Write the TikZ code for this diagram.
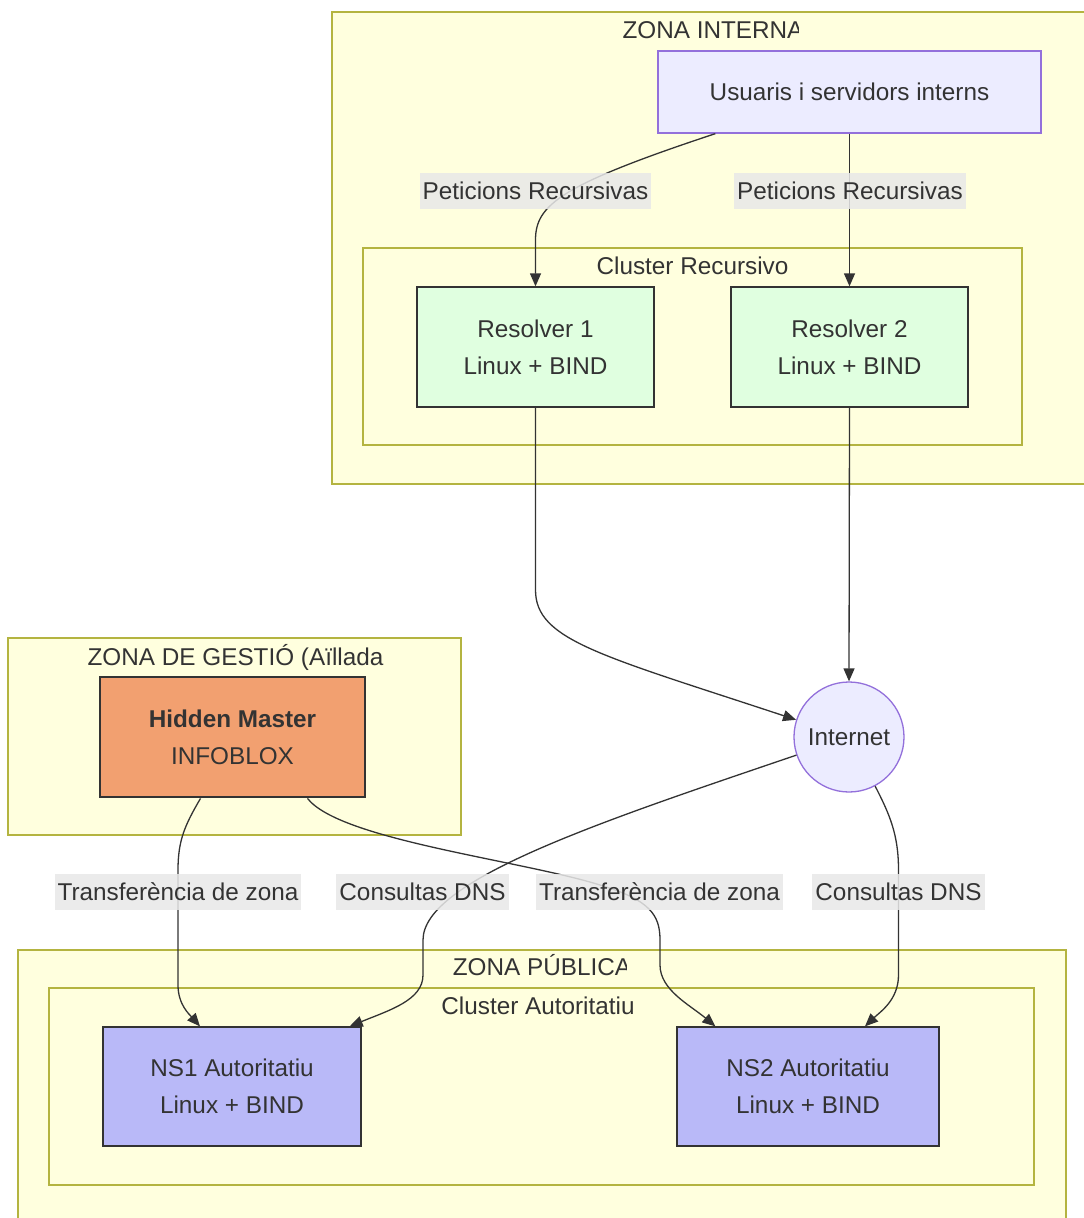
\documentclass[tikz,border=0pt]{standalone}
\usepackage{fontspec}
\setmainfont{Liberation Sans}
\usetikzlibrary{arrows.meta}
\definecolor{clfill}{HTML}{FFFFDE}
\definecolor{clline}{HTML}{B4B440}
\definecolor{txt}{HTML}{333333}
\definecolor{usfill}{HTML}{ECECFF}
\definecolor{usline}{HTML}{9370DB}
\definecolor{resfill}{HTML}{E0FFE0}
\definecolor{hmfill}{HTML}{F2A070}
\definecolor{nsfill}{HTML}{B9B9F8}
\definecolor{lblfill}{HTML}{E8E8E8}
\begin{document}
\begin{tikzpicture}[x=1pt,y=-1pt,
  cluster/.style={draw=clline,fill=clfill,line width=1.3pt},
  ctitle/.style={text=txt,font=\fontsize{24.3}{29}\selectfont,inner sep=0pt,text height=17pt,text depth=0pt},
  box/.style={draw=txt,line width=1.3pt,text=txt,align=center,font=\fontsize{24.3}{37}\selectfont,inner sep=0pt},
  lbl/.style={fill=lblfill,fill opacity=0.85,text opacity=1,text=txt,font=\fontsize{24.3}{29}\selectfont,inner xsep=3pt,inner ysep=0pt,text height=17pt,text depth=0pt,minimum height=36pt},
  edge/.style={draw=txt,line width=1.3pt,-{Triangle[length=13pt,width=11pt]}}]
\useasboundingbox (0,0) rectangle (1084,1218);
\clip (0,0) rectangle (1084,1218);
\fill[white] (0,0) rectangle (1084,1218);

% clusters
\path[cluster] (332,12) rectangle (1094,484);
\path[cluster] (363,248) rectangle (1022,445);
\path[cluster] (8,638) rectangle (461,835);
\path[cluster] (18,950) rectangle (1066,1240);
\path[cluster] (49,988) rectangle (1034,1185);

% cluster titles
\begin{scope}
  \clip (332,12) rectangle (798,60);
  \node[ctitle] (tzi) at (713,30) {ZONA INTERNA};
\end{scope}
\node[ctitle] (tcr) at (692.5,266) {Cluster Recursivo};
\node[ctitle] (tzg) at (235.5,657) {ZONA DE GESTIÓ (Aïllada};
\begin{scope}
  \clip (18,950) rectangle (626,990);
  \node[ctitle] (tzp) at (542,967) {ZONA PÚBLICA};
\end{scope}
\node[ctitle] (tca) at (538,1006) {Cluster Autoritatiu};

% nodes
\node[box,draw=usline,fill=usfill,minimum width=383pt,minimum height=82pt] (usu) at (849.5,92) {Usuaris i servidors interns};
\node[box,fill=resfill,minimum width=237pt,minimum height=120pt] (r1) at (535.5,347) {Resolver 1\\Linux + BIND};
\node[box,fill=resfill,minimum width=237pt,minimum height=120pt] (r2) at (849.5,347) {Resolver 2\\Linux + BIND};
\node[circle,draw=usline,fill=usfill,line width=1.3pt,minimum size=110pt,inner sep=0pt,text=txt,font=\fontsize{24.3}{29}\selectfont] (inet) at (849,737) {Internet};
\node[box,fill=hmfill,line width=2.8pt,minimum width=265pt,minimum height=120pt] (hm) at (232.5,737) {\bfseries Hidden Master\\INFOBLOX};
\node[box,fill=nsfill,minimum width=258pt,minimum height=119pt] (ns1) at (232,1086.5) {NS1 Autoritatiu\\Linux + BIND};
\node[box,fill=nsfill,minimum width=262pt,minimum height=119pt] (ns2) at (808,1086.5) {NS2 Autoritatiu\\Linux + BIND};

% edges
\draw[edge] ([xshift=58pt]usu.south west) .. controls (560,185) and (535.5,205) .. (535.5,240) -- (r1.north);
\draw[edge] (usu.south) -- (r2.north);
\draw[edge] (r1.south) -- (535.5,590) .. controls (535.5,640) and (600,655) .. (inet.162);
\draw[edge] (r2.south) -- (inet.north);
\draw[edge] (inet.199) .. controls (600,822) and (423,880) .. (423,940) -- (423,975) .. controls (423,1000) and (390,1010) .. ([xshift=-12pt]ns1.north east);
\draw[edge] (inet.-62) .. controls (890,815) and (898.5,835) .. (898.5,870) -- (898.5,975) .. controls (898.5,1000) and (880,1012) .. ([xshift=57pt]ns2.north);
\draw[edge] ([xshift=-32pt]hm.south) .. controls (185,825) and (178,840) .. (178,870) -- (178,985) .. controls (178,1005) and (190,1015) .. ([xshift=-32pt]ns1.north);
\draw[edge] ([xshift=75pt]hm.south) .. controls (340,840) and (520,860) .. (600,885) .. controls (650,900) and (660,915) .. (660,940) -- (660,965) .. controls (660,990) and (690,1005) .. ([xshift=39pt]ns2.north west);

% edge labels
\node[lbl] (l1) at (535.5,191) {Peticions Recursivas};
\node[lbl] (l2) at (850,191) {Peticions Recursivas};
\node[lbl] (l3) at (178,892) {Transferència de zona};
\node[lbl] (l4) at (422.5,892) {Consultas DNS};
\node[lbl] (l5) at (659.5,892) {Transferència de zona};
\node[lbl] (l6) at (898.5,892) {Consultas DNS};
\end{tikzpicture}
\end{document}
